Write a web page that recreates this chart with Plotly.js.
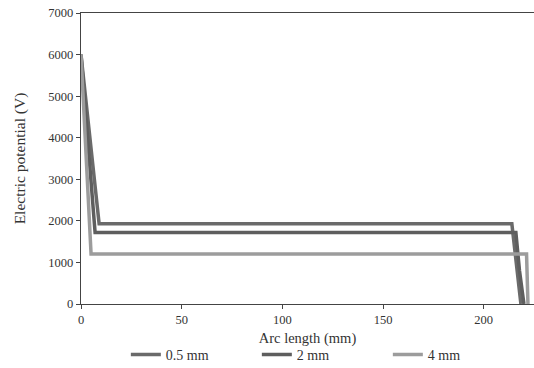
<!DOCTYPE html>
<html>
<head>
<meta charset="utf-8">
<script src="https://cdn.plot.ly/plotly-3.0.1.min.js"></script>
<style>html,body{margin:0;padding:0;background:#fff;}#chart{width:534px;height:368px;}</style>
</head>
<body>
<div id="chart"></div>
<script>
// Series names
const seriesNames = ["0.5 mm", "2 mm", "4 mm"];
// Arc length (mm) and electric potential (V) for each series
const x_05 = [0, 9, 214, 216.5, 218.5];
const y_05 = [6000, 1930, 1930, 900, 0];
const x_2 = [0, 7, 216, 217.8, 220];
const y_2 = [6000, 1720, 1720, 800, 0];
const x_4 = [0, 5, 221.3, 221.6, 222];
const y_4 = [6000, 1200, 1200, 600, 0];
// Tick values
const yTicks = [0, 1000, 2000, 3000, 4000, 5000, 6000, 7000];
const xTicks = [0, 50, 100, 150, 200];

const colors = ["#6a6a6a", "#5e5e5e", "#9c9c9c"];
const font = "Liberation Serif, Times New Roman, serif";

const data = [
  {x: x_05, y: y_05, name: seriesNames[0]},
  {x: x_2, y: y_2, name: seriesNames[1]},
  {x: x_4, y: y_4, name: seriesNames[2]}
].map((t, i) => Object.assign(t, {
  type: "scatter", mode: "lines",
  line: {color: colors[i], width: 3.5},
  cliponaxis: false
}));

const layout = {
  width: 534, height: 368,
  margin: {l: 81, r: 0, t: 13, b: 64, autoexpand: false},
  paper_bgcolor: "#fff", plot_bgcolor: "#fff",
  font: {family: font, size: 12, color: "#333"},
  showlegend: true,
  legend: {
    orientation: "h", x: 0.099, xanchor: "left", y: -0.23, yanchor: "bottom",
    entrywidth: 86, entrywidthmode: "pixels",
    font: {family: font, size: 14, color: "#333"},
    bgcolor: "rgba(0,0,0,0)", traceorder: "normal"
  },
  xaxis: {
    range: [0, 225], tickvals: xTicks, ticktext: xTicks.map(String),
    showgrid: false, zeroline: false, automargin: false,
    showline: true, linecolor: "#444", linewidth: 1.3, mirror: true,
    ticks: "outside", ticklen: 4, tickcolor: "#444",
    tickfont: {family: font, size: 12.5, color: "#333"},
    title: {text: "Arc length (mm)", font: {family: font, size: 14.5, color: "#333"}, standoff: 6}
  },
  yaxis: {
    range: [0, 7000], tickvals: yTicks, ticktext: yTicks.map(String),
    showgrid: false, zeroline: false, automargin: false,
    showline: true, linecolor: "#444", linewidth: 1.3,
    ticks: "outside", ticklen: 4, tickcolor: "#444",
    tickfont: {family: font, size: 12.5, color: "#333"},
    title: {text: "Electric potential (V)", font: {family: font, size: 15.5, color: "#333"}, standoff: 18}
  }
};

Plotly.newPlot("chart", data, layout, {displayModeBar: false, staticPlot: true});
</script>
</body>
</html>
